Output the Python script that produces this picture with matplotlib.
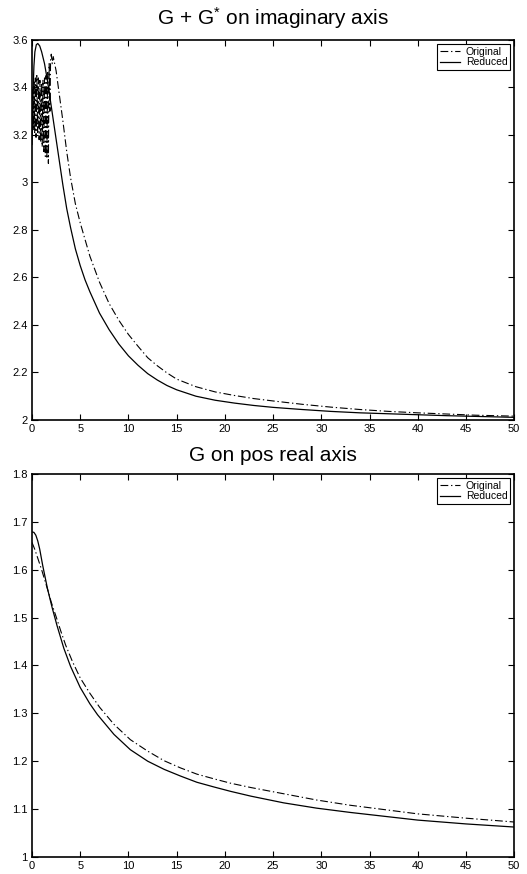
import numpy as np
import matplotlib.pyplot as plt

plt.rcParams['font.family'] = ['Liberation Sans', 'DejaVu Sans']
plt.rcParams['mathtext.fontset'] = 'custom'
plt.rcParams['mathtext.rm'] = 'Liberation Sans'
plt.rcParams['mathtext.it'] = 'Liberation Sans'

# top panel: G + G* on imaginary axis
top_x_orig = [0.0, 0.07, 0.14, 0.21, 0.28, 0.35, 0.42, 0.5, 0.58, 0.66, 0.74, 0.82, 0.9,
              0.98, 1.06, 1.14, 1.22, 1.3, 1.38, 1.46, 1.54, 1.62, 1.7, 1.78, 1.86, 1.93,
              2.0, 2.1, 2.2, 2.35, 2.5, 2.8, 3.2, 3.6, 4.0, 4.5, 5.0, 5.5, 6.0, 7.0, 8.0,
              9.0, 10, 11, 12, 13, 14, 15, 17, 19, 21, 23, 25, 28, 31, 34, 37, 40, 43,
              46, 50]
top_y_orig = [3.30, 3.40, 3.22, 3.43, 3.21, 3.44, 3.19, 3.45, 3.21, 3.44, 3.18, 3.43, 3.17,
              3.42, 3.15, 3.43, 3.13, 3.44, 3.11, 3.45, 3.10, 3.47, 3.08, 3.50, 3.30, 3.52,
              3.54, 3.50, 3.53, 3.50, 3.47, 3.38, 3.26, 3.13, 3.02, 2.91, 2.83, 2.76, 2.69,
              2.58, 2.49, 2.42, 2.36, 2.31, 2.262, 2.228, 2.198, 2.172, 2.140, 2.118, 2.103,
              2.090, 2.080, 2.066, 2.054, 2.044, 2.036, 2.030, 2.025, 2.020, 2.016]
top_x_red = [0.0, 0.1, 0.2, 0.3, 0.45, 0.6, 0.8, 1.0, 1.3, 1.6, 2.0, 2.4, 2.8, 3.2, 3.6,
             4.0, 4.5, 5.0, 5.5, 6.0, 7.0, 8.0, 9.0, 10, 11, 12, 13, 14, 15, 17, 19, 21,
             23, 25, 28, 31, 34, 37, 40, 43, 46, 50]
top_y_red = [3.16, 3.37, 3.49, 3.55, 3.58, 3.585, 3.575, 3.55, 3.50, 3.43, 3.32, 3.21, 3.10,
             2.99, 2.89, 2.81, 2.72, 2.65, 2.59, 2.54, 2.45, 2.38, 2.32, 2.27, 2.23, 2.195,
             2.168, 2.145, 2.127, 2.100, 2.083, 2.071, 2.061, 2.053, 2.044, 2.036, 2.030,
             2.026, 2.022, 2.018, 2.015, 2.011]

# bottom panel: G on pos real axis
bot_x_orig = [0.0, 0.3, 0.6, 1.0, 1.3, 1.6, 2.0, 2.5, 3.0, 3.5, 4.2, 5.0, 6.0, 7.0, 8.5,
              10.2, 12.0, 13.7, 15.4, 17.1, 18.9, 20.6, 22.7, 26.1, 29.5, 33.0, 36.5, 40.0,
              45.0, 50.0]
bot_y_orig = [1.657, 1.642, 1.624, 1.600, 1.580, 1.560, 1.532, 1.502, 1.471, 1.442, 1.408,
              1.374, 1.342, 1.313, 1.277, 1.245, 1.221, 1.201, 1.186, 1.173, 1.163, 1.154,
              1.145, 1.132, 1.119, 1.108, 1.099, 1.090, 1.081, 1.073]
bot_x_red = [0.0, 0.2, 0.4, 0.6, 0.8, 1.1, 1.6, 2.1, 2.6, 3.3, 4.0, 5.0, 6.0, 6.8, 8.5,
             10.2, 12.0, 13.7, 15.4, 17.1, 18.9, 20.6, 22.7, 26.1, 29.5, 33.0, 36.5, 40.0,
             45.0, 50.0]
bot_y_red = [1.679, 1.678, 1.672, 1.660, 1.643, 1.610, 1.561, 1.520, 1.483, 1.436, 1.398,
             1.354, 1.320, 1.297, 1.256, 1.224, 1.200, 1.183, 1.169, 1.156, 1.146, 1.137,
             1.127, 1.113, 1.102, 1.093, 1.085, 1.077, 1.069, 1.0625]

dashdot = (0, (7, 2.5, 1.2, 2.5))

fig = plt.figure(figsize=(5.27, 8.74), dpi=100)
ax1 = fig.add_axes([0.0607, 0.5195, 0.915, 0.4348])
ax2 = fig.add_axes([0.0607, 0.0195, 0.915, 0.4382])

panels = [
    (ax1, top_x_orig, top_y_orig, top_x_red, top_y_red, (2, 3.6),
     np.arange(2, 3.61, 0.2), r'G + G$^{*}$ on imaginary axis', 11),
    (ax2, bot_x_orig, bot_y_orig, bot_x_red, bot_y_red, (1, 1.8),
     np.arange(1, 1.81, 0.1), 'G on pos real axis', 9),
]

for ax, xo, yo, xr, yr, ylim, yt, title, tpad in panels:
    ax.plot(xo, yo, color='black', lw=0.8, linestyle=dashdot, label='Original')
    ax.plot(xr, yr, color='black', lw=0.9, label='Reduced')
    ax.set_xlim(0, 50)
    ax.set_ylim(*ylim)
    ax.set_xticks(np.arange(0, 51, 5))
    ax.set_yticks(yt)
    ax.set_yticklabels(['%g' % round(v, 1) for v in yt])
    ax.tick_params(direction='in', top=True, right=True, labelsize=8,
                   length=4, width=0.8, pad=3)
    for s in ax.spines.values():
        s.set_linewidth(1.2)
    ax.set_title(title, fontsize=15, pad=tpad)
    leg = ax.legend(loc='upper right', fontsize=7.5, frameon=True, fancybox=False,
                    framealpha=1, edgecolor='black', borderpad=0.25, labelspacing=0.05,
                    handlelength=2.0, handletextpad=0.5, borderaxespad=0.4)
    leg.get_frame().set_linewidth(0.8)

fig.savefig('out.png', dpi=100)
